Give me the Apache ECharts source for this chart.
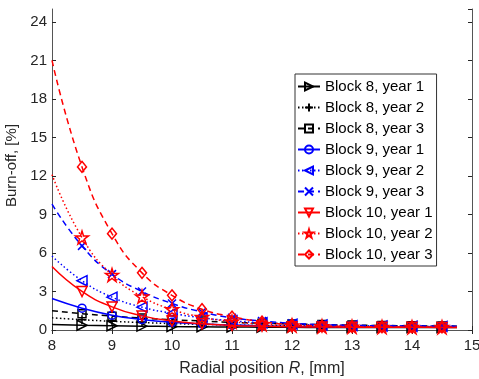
<!DOCTYPE html>
<html><head><meta charset="utf-8">
<script src="https://cdn.jsdelivr.net/npm/echarts@6/dist/echarts.min.js"></script>
<style>html,body{margin:0;padding:0;background:#fff}#c{width:479px;height:379px}</style>
</head><body><div id="c"></div>
<script>
// Radial positions [mm] (first = curve start, last = curve end; markers in between)
const radialPos = [8, 8.5, 9, 9.5, 10, 10.5, 11, 11.5, 12, 12.5, 13, 13.5, 14, 14.5, 14.75];
const xTicks = [8, 9, 10, 11, 12, 13, 14, 15];
const yTicks = [0, 3, 6, 9, 12, 15, 18, 21, 24];

const block8year1  = [0.42, 0.37, 0.33, 0.30, 0.27, 0.25, 0.23, 0.22, 0.21, 0.20, 0.20, 0.19, 0.19, 0.19, 0.19];
const block8year2  = [0.95, 0.80, 0.68, 0.58, 0.50, 0.44, 0.39, 0.35, 0.32, 0.30, 0.28, 0.27, 0.26, 0.25, 0.25];
const block8year3  = [1.50, 1.27, 1.08, 0.93, 0.80, 0.70, 0.60, 0.53, 0.47, 0.42, 0.38, 0.35, 0.33, 0.31, 0.30];
const block9year1  = [2.45, 1.70, 1.15, 0.82, 0.60, 0.47, 0.38, 0.32, 0.28, 0.26, 0.24, 0.23, 0.22, 0.22, 0.22];
const block9year2  = [5.76, 3.84, 2.56, 1.78, 1.30, 0.95, 0.72, 0.57, 0.46, 0.39, 0.34, 0.31, 0.29, 0.28, 0.28];
const block9year3  = [9.80, 6.55, 4.35, 3.00, 2.07, 1.40, 0.95, 0.70, 0.52, 0.42, 0.36, 0.33, 0.31, 0.30, 0.30];
const block10year1 = [4.95, 3.00, 1.80, 1.10, 0.70, 0.48, 0.36, 0.29, 0.25, 0.23, 0.22, 0.21, 0.21, 0.20, 0.20];
const block10year2 = [12.1, 7.20, 4.28, 2.60, 1.60, 1.00, 0.65, 0.45, 0.35, 0.28, 0.25, 0.23, 0.22, 0.22, 0.22];
const block10year3 = [21.0, 12.7, 7.50, 4.45, 2.70, 1.62, 1.04, 0.65, 0.42, 0.32, 0.27, 0.24, 0.23, 0.22, 0.22];

const seriesNames = ['Block 8, year 1','Block 8, year 2','Block 8, year 3',
  'Block 9, year 1','Block 9, year 2','Block 9, year 3',
  'Block 10, year 1','Block 10, year 2','Block 10, year 3'];
const seriesValues = [block8year1, block8year2, block8year3, block9year1, block9year2, block9year3,
  block10year1, block10year2, block10year3];

const BLACK = '#000000', BLUE = '#0000ff', RED = '#ff0000';
const PLUS = 'path://M0,5L10,5M5,0L5,10';
const CROSS = 'path://M0,0L10,10M10,0L0,10';
const STAR = 'path://M50,2 L61,36 L97,36 L68,57 L79,92 L50,71 L21,92 L32,57 L3,36 L39,36 Z';
const DOTTED = [1.5, 2.5], DASHED = [6, 4];

const styles = [
  {c: BLACK, t: 'solid', s: 'triangle', r: -90, z: 10},
  {c: BLACK, t: DOTTED, s: PLUS, r: 0, z: 9},
  {c: BLACK, t: DASHED, s: 'rect', r: 0, z: 8},
  {c: BLUE, t: 'solid', s: 'circle', r: 0, z: 8},
  {c: BLUE, t: DOTTED, s: 'triangle', r: 90, z: 10},
  {c: BLUE, t: DASHED, s: CROSS, r: 0, z: 8},
  {c: RED, t: 'solid', s: 'triangle', r: 180, z: 10},
  {c: RED, t: DOTTED, s: STAR, r: 0, z: 13},
  {c: RED, t: DASHED, s: 'diamond', r: 0, z: [9, 11]}
];

const FONT = '"Liberation Sans", Arial, sans-serif';
const TXT = '#262626';

const series = seriesNames.map((name, i) => {
  const st = styles[i];
  return {
    name: name,
    type: 'line',
    xAxisIndex: 0, yAxisIndex: 0,
    smooth: 0.5,
    symbol: st.s,
    symbolSize: st.z,
    symbolRotate: st.r,
    showAllSymbol: true,
    lineStyle: {color: st.c, width: 1.5, type: st.t},
    itemStyle: {color: 'rgba(0,0,0,0)', borderColor: st.c, borderWidth: 1.5},
    emphasis: {disabled: true},
    z: 2 + i,
    data: radialPos.map((x, k) => {
      const item = {value: [x, seriesValues[i][k]]};
      if (k === 0 || k === radialPos.length - 1) item.symbol = 'none';
      return item;
    })
  };
});

const axisCommonX = {
  type: 'value', min: xTicks[0], max: xTicks[xTicks.length - 1], interval: 1,
  splitLine: {show: false},
  axisLine: {show: true, lineStyle: {color: '#555', width: 1}},
  axisTick: {show: true, inside: true, length: 4, lineStyle: {color: TXT}}
};
const axisCommonY = {
  type: 'value', min: 0, max: 25, interval: 3,
  splitLine: {show: false},
  axisLine: {show: true, lineStyle: {color: '#555', width: 1}},
  axisTick: {show: true, inside: true, length: 4, lineStyle: {color: TXT}}
};

const chart = echarts.init(document.getElementById('c'), null, {renderer: 'canvas'});
chart.setOption({
  animation: false,
  backgroundColor: '#fff',
  grid: {left: 52, right: 7, top: 9, bottom: 49, containLabel: false, outerBoundsMode: 'none'},
  xAxis: [
    Object.assign({}, axisCommonX, {
      position: 'bottom',
      axisLabel: {show: true, color: TXT, fontSize: 15, fontFamily: FONT, margin: 8,
        formatter: v => xTicks.includes(v) ? String(v) : ''},
      name: '{n|Radial position }{i|R}{n|, [mm]}',
      nameLocation: 'middle', nameGap: 31,
      nameTextStyle: {color: TXT, fontSize: 16, fontFamily: FONT,
        rich: {n: {fontSize: 16, fontFamily: FONT, color: TXT},
               i: {fontSize: 16, fontFamily: FONT, color: TXT, fontStyle: 'italic'}}}
    }),
    Object.assign({}, axisCommonX, {position: 'top', axisLabel: {show: false}})
  ],
  yAxis: [
    Object.assign({}, axisCommonY, {
      position: 'left',
      axisLabel: {show: true, color: TXT, fontSize: 15, fontFamily: FONT, margin: 5,
        showMaxLabel: false,
        formatter: v => yTicks.includes(v) ? String(v) : ''},
      name: 'Burn-off, [%]',
      nameLocation: 'middle', nameGap: 22, nameRotate: 90,
      nameTextStyle: {color: TXT, fontSize: 15, fontFamily: FONT, padding: [0, 0, 0, 8]}
    }),
    Object.assign({}, axisCommonY, {position: 'right', axisLabel: {show: false}})
  ],
  legend: {
    orient: 'vertical',
    left: 295, top: 74,
    padding: [5, 4, 4, 2],
    itemWidth: 22, itemHeight: 10, itemGap: 6, itemTextGap: 2,
    backgroundColor: '#fff',
    borderColor: '#333', borderWidth: 1,
    selectedMode: false,
    textStyle: {color: '#000', fontSize: 15, fontFamily: FONT},
    data: seriesNames
  },
  series: series
});
</script>
</body></html>
